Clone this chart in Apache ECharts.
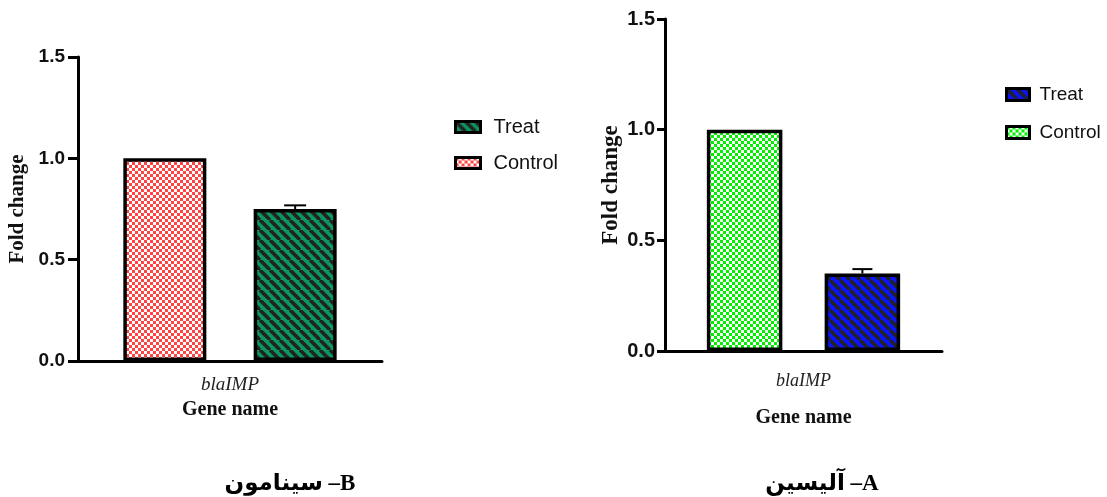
<!DOCTYPE html>
<html>
<head>
<meta charset="utf-8">
<script src="https://cdn.jsdelivr.net/npm/echarts@6.0.0/dist/echarts.min.js"></script>
<style>
  html, body { margin: 0; padding: 0; background: #fff; }
  #chart { width: 1107px; height: 497px; }
</style>
</head>
<body>
<div id="chart"></div>
<script>
// ---- data ----
const genes = ["blaIMP"];
const yTicks = [0, 0.5, 1.0, 1.5];
const seriesNames = ["Control", "Treat"];
const legendOrder = ["Treat", "Control"];

// B: cinnamon
const cinControl = [1.0];
const cinTreat = [0.75];
const cinTreatErr = [0.018];

// A: allicin
const allControl = [1.0];
const allTreat = [0.35];
const allTreatErr = [0.02];

const captionB = "سینامون –B";
const captionA = "آلیسین –A";

// ---- fill patterns ----
function checker(color, size) {
  const c = document.createElement("canvas");
  c.width = c.height = size * 2;
  const ctx = c.getContext("2d");
  ctx.fillStyle = "#fff";
  ctx.fillRect(0, 0, size * 2, size * 2);
  ctx.fillStyle = color;
  ctx.fillRect(0, 0, size, size);
  ctx.fillRect(size, size, size, size);
  return { image: c, repeat: "repeat" };
}

function stripes(color, period, width) {
  const c = document.createElement("canvas");
  c.width = c.height = period;
  const ctx = c.getContext("2d");
  ctx.fillStyle = color;
  ctx.fillRect(0, 0, period, period);
  ctx.strokeStyle = "#222";
  ctx.lineWidth = width;
  for (const x0 of [-period, 0, period]) {
    ctx.beginPath();
    ctx.moveTo(x0, 0);
    ctx.lineTo(x0 + period, period);
    ctx.stroke();
  }
  return { image: c, repeat: "repeat" };
}

const redCheck = checker("#ff4343", 3);
const greenCheck = checker("#00f000", 3);
const greenStripe = stripes("#0c9660", 10, 3.5);
const blueStripe = stripes("#0a14ff", 10, 3.5);

const serif = '"Liberation Serif", "Times New Roman", serif';
const sans = '"Liberation Sans", Arial, sans-serif';

function errRender(offset, capW) {
  return function (params, api) {
    const x = api.coord([api.value(0), 0])[0] + offset;
    const yMean = api.coord([api.value(0), api.value(1)])[1];
    const yTop = api.coord([api.value(0), api.value(1) + api.value(2)])[1];
    return {
      type: "group",
      children: [
        { type: "line", shape: { x1: x, y1: yMean, x2: x, y2: yTop }, style: { stroke: "#000", lineWidth: 2 } },
        { type: "line", shape: { x1: x - capW / 2, y1: yTop, x2: x + capW / 2, y2: yTop }, style: { stroke: "#000", lineWidth: 2 } },
      ],
    };
  };
}

function yAxis(gridIndex, fontSize, tickLen, margin, nameSize, nameGap) {
  return {
    type: "value",
    gridIndex,
    min: yTicks[0],
    max: yTicks[yTicks.length - 1],
    interval: yTicks[1] - yTicks[0],
    name: "Fold change",
    nameLocation: "middle",
    nameGap,
    nameTextStyle: { fontFamily: serif, fontWeight: "bold", fontSize: nameSize, color: "#111" },
    axisLine: { show: true, lineStyle: { color: "#000", width: 3 } },
    axisTick: { show: true, length: tickLen, lineStyle: { color: "#000", width: 3 } },
    axisLabel: {
      margin,
      formatter: (v) => v.toFixed(1),
      fontFamily: sans,
      fontWeight: "bold",
      fontSize,
      color: "#111",
    },
    splitLine: { show: false },
  };
}

function xAxis(gridIndex, labelSize, margin, nameSize, nameGap, tickLen) {
  return {
    type: "category",
    gridIndex,
    data: genes,
    name: "Gene name",
    nameLocation: "middle",
    nameGap,
    nameTextStyle: { fontFamily: serif, fontWeight: "bold", fontSize: nameSize, color: "#111" },
    axisLine: { lineStyle: { color: "#000", width: 3 } },
    axisTick: { alignWithLabel: true, length: tickLen, lineStyle: { color: "#000", width: 3 } },
    axisLabel: { margin, fontFamily: serif, fontStyle: "italic", fontSize: labelSize, color: "#222" },
  };
}

const barBorder = { borderColor: "#000", borderWidth: 3.5 };
const captionFont = 'bold 23px "Liberation Serif", "DejaVu Serif", "DejaVu Sans", serif';

const option = {
  animation: false,
  backgroundColor: "#fff",
  grid: [
    { left: 78, top: 57, width: 304, height: 304 },
    { left: 665, top: 19, width: 277, height: 332 },
  ],
  xAxis: [xAxis(0, 19, 14, 20, 39, 11), xAxis(1, 18, 21, 20, 57, 12)],
  yAxis: [yAxis(0, 19, 10, 13, 21, 50), yAxis(1, 20, 8, 10, 23, 42)],
  legend: [
    {
      orient: "vertical",
      left: 449,
      top: 112,
      itemGap: 16,
      itemWidth: 25,
      itemHeight: 11,
      icon: "rect",
      textStyle: { fontFamily: sans, fontSize: 20, color: "#111", lineHeight: 18, padding: [0, 0, 0, 8] },
      data: [
        { name: legendOrder[0], itemStyle: { color: greenStripe, borderColor: "#000", borderWidth: 3 } },
        { name: legendOrder[1], itemStyle: { color: redCheck, borderColor: "#000", borderWidth: 3 } },
      ],
    },
    {
      orient: "vertical",
      left: 1000,
      top: 80,
      itemGap: 19,
      itemWidth: 23,
      itemHeight: 12,
      icon: "rect",
      textStyle: { fontFamily: sans, fontSize: 19, color: "#111", lineHeight: 18, padding: [0, 0, 0, 5] },
      data: [
        { name: legendOrder[0], itemStyle: { color: blueStripe, borderColor: "#000", borderWidth: 3 } },
        { name: legendOrder[1], itemStyle: { color: greenCheck, borderColor: "#000", borderWidth: 3 } },
      ],
    },
  ],
  series: [
    {
      name: seriesNames[0], type: "bar", xAxisIndex: 0, yAxisIndex: 0,
      data: cinControl, barWidth: 83, barGap: "57%",
      itemStyle: Object.assign({ color: redCheck }, barBorder),
    },
    {
      name: seriesNames[1], type: "bar", xAxisIndex: 0, yAxisIndex: 0,
      data: cinTreat, barWidth: 83, barGap: "57%",
      itemStyle: Object.assign({ color: greenStripe }, barBorder),
    },
    {
      type: "custom", xAxisIndex: 0, yAxisIndex: 0, z: 5,
      renderItem: errRender((83 + 83 * 0.57) / 2, 22),
      data: cinTreat.map((v, i) => [i, v, cinTreatErr[i]]),
    },
    {
      name: seriesNames[0], type: "bar", xAxisIndex: 1, yAxisIndex: 1,
      data: allControl, barWidth: 75.5, barGap: "56%",
      itemStyle: Object.assign({ color: greenCheck }, barBorder),
    },
    {
      name: seriesNames[1], type: "bar", xAxisIndex: 1, yAxisIndex: 1,
      data: allTreat, barWidth: 75.5, barGap: "56%",
      itemStyle: Object.assign({ color: blueStripe }, barBorder),
    },
    {
      type: "custom", xAxisIndex: 1, yAxisIndex: 1, z: 5,
      renderItem: errRender((75.5 + 75.5 * 0.56) / 2, 20),
      data: allTreat.map((v, i) => [i, v, allTreatErr[i]]),
    },
  ],
  graphic: [
    {
      type: "text", x: 290, y: 484,
      style: { text: captionB, font: captionFont, fill: "#000", textAlign: "center", textVerticalAlign: "middle" },
    },
    {
      type: "text", x: 822, y: 484,
      style: { text: captionA, font: captionFont, fill: "#000", textAlign: "center", textVerticalAlign: "middle" },
    },
  ],
};

const chart = echarts.init(document.getElementById("chart"), null, { renderer: "canvas" });
chart.setOption(option);
</script>
</body>
</html>
